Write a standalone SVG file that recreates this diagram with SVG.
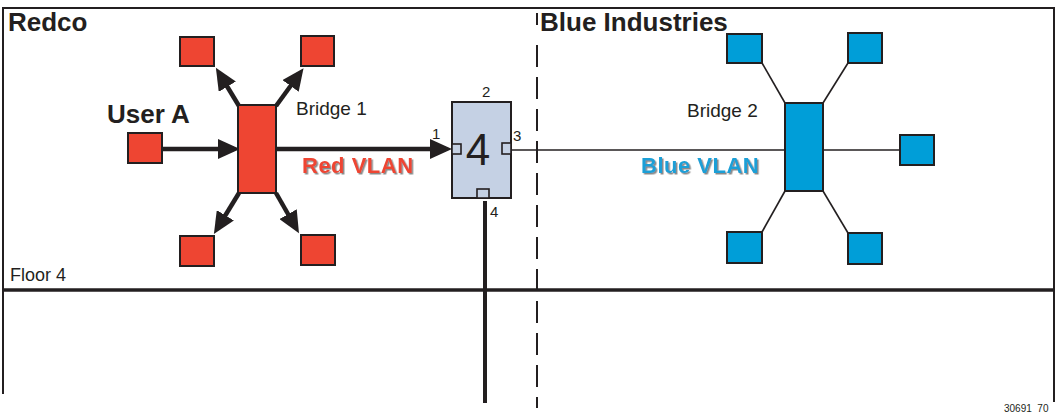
<svg xmlns="http://www.w3.org/2000/svg" width="1057" height="415" viewBox="0 0 1057 415">
<style>
text{font-family:"Liberation Sans",Arial,sans-serif;fill:#231f20}
.title{font-size:26px;font-weight:bold}
.lbl{font-size:19px}
.port{font-size:15px}
.red{fill:#ee4532;stroke:#231f20;stroke-width:2}
.blue{fill:#009ed8;stroke:#231f20;stroke-width:2}
.sw{fill:#c5d1e4;stroke:#231f20;stroke-width:2}
.pt{fill:#c5d1e4;stroke:#231f20;stroke-width:1.6}
.arr{stroke:#231f20;stroke-width:4.5;fill:none;marker-end:url(#ah)}
.thin{stroke:#231f20;stroke-width:1.6;fill:none}
.frame{stroke:#231f20;fill:none}
.vlan{font-size:22px;font-weight:bold;letter-spacing:0.5px;filter:url(#sh)}
</style>
<defs>
<marker id="ah" markerUnits="userSpaceOnUse" markerWidth="24" markerHeight="20" refX="16" refY="10" orient="auto" viewBox="0 0 24 20">
<path d="M0,0 L22,10 L0,20 z" fill="#231f20"/>
</marker>
<filter id="sh" x="-10%" y="-30%" width="130%" height="170%">
<feDropShadow dx="1.5" dy="1.5" stdDeviation="0.4" flood-color="#8a8a8a" flood-opacity="1"/>
</filter>
</defs>
<rect width="1057" height="415" fill="#fff"/>
<g id="frame">
<path class="frame" stroke-width="2" d="M3,394 V8 H1054 V402"/>
<line class="frame" stroke-width="3.5" x1="3" y1="290" x2="1054" y2="290"/>
<line class="frame" stroke-width="2" x1="537" y1="13" x2="537" y2="25"/>
<line class="frame" stroke-width="2" stroke-dasharray="22 10" x1="537" y1="45" x2="537" y2="408"/>
<text x="8" y="31" class="title">Redco</text>
<text x="540" y="31" class="title">Blue Industries</text>
<text x="10" y="281" style="font-size:18px">Floor 4</text>
<text x="1004" y="412" style="font-size:10px;white-space:pre" xml:space="preserve">30691  70</text>
</g>
<g id="connectors">
<line class="arr" x1="162" y1="149" x2="234" y2="149"/>
<line class="arr" x1="276" y1="149" x2="446" y2="149"/>
<line class="arr" x1="239" y1="106" x2="219" y2="73"/>
<line class="arr" x1="276" y1="106" x2="300" y2="73"/>
<line class="arr" x1="239" y1="193" x2="217" y2="229"/>
<line class="arr" x1="276" y1="193" x2="296" y2="228"/>
<line class="thin" x1="511" y1="150" x2="785" y2="150"/>
<line class="thin" x1="762" y1="63" x2="785" y2="103"/>
<line class="thin" x1="848" y1="63" x2="823" y2="103"/>
<line class="thin" x1="785" y1="191" x2="762" y2="232"/>
<line class="thin" x1="823" y1="191" x2="848" y2="233"/>
<line class="thin" x1="823" y1="150" x2="900" y2="150"/>
<line stroke="#231f20" stroke-width="4" x1="485" y1="201" x2="485" y2="403"/>
<text x="302" y="173" class="vlan" style="fill:#ee4532">Red VLAN</text>
<text x="641" y="173" class="vlan" style="fill:#1a9fd6">Blue VLAN</text>
</g>
<g id="userA">
<rect class="red" x="128" y="133" width="34" height="30"/>
<text x="107" y="123" class="title">User A</text>
</g>
<g id="bridge1">
<rect class="red" x="238" y="105" width="38" height="88"/>
<text x="296" y="115" class="lbl">Bridge 1</text>
</g>
<g id="red-tl"><rect class="red" x="180" y="37" width="34" height="29"/></g>
<g id="red-tr"><rect class="red" x="301" y="36" width="33" height="30"/></g>
<g id="red-bl"><rect class="red" x="180" y="236" width="34" height="30"/></g>
<g id="red-br"><rect class="red" x="301" y="235" width="34" height="30"/></g>
<g id="switch">
<rect class="sw" x="452" y="102" width="59" height="96"/>
<rect class="pt" x="452" y="144" width="9" height="10"/>
<rect class="pt" x="502" y="143" width="9" height="11"/>
<rect class="pt" x="477" y="189" width="12" height="9"/>
<text x="478" y="165" text-anchor="middle" style="font-size:44px">4</text>
<text x="432" y="139" class="port">1</text>
<text x="482" y="97" class="port">2</text>
<text x="513" y="141" class="port">3</text>
<text x="490" y="217" class="port">4</text>
</g>
<g id="bridge2">
<rect class="blue" x="785" y="103" width="38" height="88"/>
<text x="687" y="117" class="lbl">Bridge 2</text>
</g>
<g id="blue-tl"><rect class="blue" x="727" y="34" width="35" height="29"/></g>
<g id="blue-tr"><rect class="blue" x="848" y="33" width="34" height="30"/></g>
<g id="blue-r"><rect class="blue" x="900" y="135" width="34" height="30"/></g>
<g id="blue-bl"><rect class="blue" x="727" y="232" width="35" height="31"/></g>
<g id="blue-br"><rect class="blue" x="848" y="233" width="34" height="31"/></g>
</svg>
